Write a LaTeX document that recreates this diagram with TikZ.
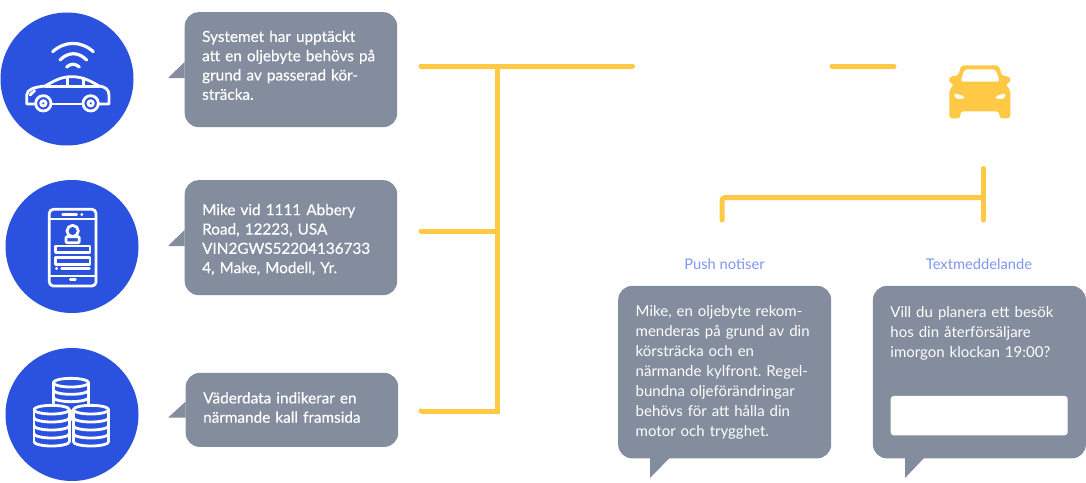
\documentclass[tikz,border=0pt]{standalone}
\usepackage{fontspec}
\setmainfont{Lato}
\newfontfamily\semifont[FakeBold=0.4]{Lato}
\usepackage{tikz}
\usetikzlibrary{positioning}
\definecolor{discblue}{HTML}{2A52DE}
\definecolor{bubblegray}{HTML}{838D9D}
\definecolor{wireyellow}{HTML}{FFC845}
\definecolor{labelblue}{HTML}{7E97F2}

\begin{document}
\frenchspacing
\begin{tikzpicture}[x=1pt, y=-1pt]
      \tikzstyle{disc}=[circle, fill=discblue, minimum size=133pt, inner sep=0pt]
      \tikzstyle{bubble}=[rectangle, rounded corners=14pt, fill=bubblegray, text=white,
        align=left, anchor=north west, inner xsep=17.5pt, inner ysep=0pt]
      \tikzstyle{left bubble}=[bubble, text width=177.5pt, font=\semifont\fontsize{15.3}{19.3}\selectfont]
      \tikzstyle{right bubble}=[bubble, text width=178pt, minimum height=172.5pt, font=\fontsize{15}{19.9}\selectfont]
      \tikzstyle{tail}=[fill=bubblegray]
      \tikzstyle{wire}=[draw=wireyellow, line width=5pt, line cap=round]
      \tikzstyle{channel}=[text=labelblue, font=\fontsize{14.7}{16}\selectfont]
      \tikzstyle{icon}=[draw=white, line width=2.8pt, line cap=round, line join=round]
      \useasboundingbox (0,0) rectangle (1086,482);

      \node[disc] (car) at (67,79) {};
      \node[disc] (phone) at (72,246.5) {};
      \node[disc] (data) at (72,414.5) {};

      \node[left bubble, minimum height=115pt] (detect) at (184.5,12) {Systemet har uppt\"ackt\\att en oljebyte beh\"ovs p\aa\\grund av passerad k\"or-\\str\"acka.\rule[-9pt]{0pt}{9pt}};
      \node[left bubble, minimum height=115pt] (owner) at (184.5,180) {\rule{0pt}{15pt}Mike vid 1111 Abbery\\Road, 12223, USA\\VIN2GWS52204136733\\4, Make, Modell, Yr.};
      \node[left bubble, minimum height=74pt] (weather) at (185.5,372.7) {V\"aderdata indikerar en\\n\"armande kall framsida\rule[-5pt]{0pt}{5pt}};
      \node[right bubble] (push) at (618,285.7) {Mike, en oljebyte rekom-\\menderas p\aa{} grund av din\\k\"orstr\"acka och en\\n\"armande kylfront. Regel-\\bundna oljef\"or\"andringar\\beh\"ovs f\"or att h\aa lla din\\motor och trygghet.};
      \node[right bubble] (sms) at (872.7,285.7) {Vill du planera ett bes\"ok\\hos din \aa terf\"ors\"aljare\\imorgon klockan 19:00?\\[59.7pt]~};
      \node[fill=white, rounded corners=3pt, minimum width=177pt, minimum height=39.3pt, inner sep=0pt] (reply) at (979.2,415.6) {};
      \node[channel] (pushlabel) at (724.5,264) {Push notiser};
      \node[channel] (smslabel) at (979,264) {Textmeddelande};

      \fill[tail] (detect.west |- 0,62) -- (168,78) -- (detect.west |- 0,78) -- cycle;
      \fill[tail] (owner.west |- 0,230) -- (168,246) -- (owner.west |- 0,246) -- cycle;
      \fill[tail] (weather.west |- 0,401.7) -- (168,417.7) -- (weather.west |- 0,417.7) -- cycle;
      \fill[tail] (650,457) -- (650,478) -- (670.5,457) -- cycle;
      \fill[tail] (905,457) -- (905,478) -- (925,457) -- cycle;

      \coordinate (detectwire) at (421,66);
      \coordinate (ownerwire) at (421,231);
      \coordinate (weatherwire) at (421,411);
      \coordinate (trunktop) at (497,66);
      \coordinate (trunkbase) at (497,411);
      \coordinate (trunkjoin) at (497,231);
      \coordinate (busend) at (632.5,66);
      \coordinate (gapstart) at (832,66);
      \coordinate (gapend) at (894,66);
      \coordinate (forktop) at (983.5,168.5);
      \coordinate (forkbase) at (983.5,220);
      \coordinate (forkjoin) at (983.5,197.7);
      \coordinate (pushfoot) at (722,220);
      \coordinate (pushcorner) at (722,197.7);

      \path[wire] (detectwire) edge (busend)
                  (ownerwire) edge (trunkjoin)
                  (gapstart) edge (gapend)
                  (forktop) edge (forkbase);
      \draw[wire, line cap=butt] (trunktop) -- (trunkbase) -- (weatherwire);
      \draw[wire, rounded corners=3pt] (pushfoot) -- (pushcorner) -- (forkjoin);
      \fill[wireyellow] (weatherwire) circle (2.5);

      % connected car
      \begin{scope}[scale=1/3]
        \draw[icon, line width=3.2pt] (158,155) .. controls (195,122) and (243,122) .. (280,155);
        \draw[icon, line width=3.2pt] (180,180) .. controls (205,155) and (235,155) .. (260,180);
        \draw[icon, line width=3.2pt] (200,201) .. controls (212,190) and (226,190) .. (238,201);
        \draw[icon] (104,312) -- (80,312) -- (80,285) .. controls (82,268) and (100,262) .. (135,258)
          .. controls (160,245) and (180,230) .. (215,230) .. controls (250,230) and (275,245) .. (297,258)
          .. controls (315,260) and (327,268) .. (327,285) -- (327,312) -- (298,312);
        \draw[icon] (156,312) -- (246,312);
        \draw[icon] (135,259) -- (297,259);
        \draw[icon] (203,232) -- (203,258) (250,234) -- (250,258);
        \draw[icon] (90,285) -- (104,272);
        \foreach \x in {130,272} {
          \draw[icon] (\x,310) circle (23);
          \draw[icon] (\x,310) circle (8);
        }
      \end{scope}

      % phone
      \begin{scope}[shift={(0,170)}, scale=1/3]
        \draw[icon, rounded corners=4pt] (148,118) rectangle (288,348);
        \draw[icon] (148,147) -- (288,147) (148,318) -- (288,318);
        \draw[icon] (188,134) -- (230,134) (245,134) -- (246,134);
        \draw[icon] (211,329) -- (226,329);
        \draw[icon] (218,183) circle (17);
        \draw[icon, rounded corners=1pt] (198,200) rectangle (238,218);
        \draw[icon] (166,228) rectangle (270,248);
        \draw[icon] (166,263) rectangle (270,284);
        \draw[icon] (169,296) -- (170,296) (185,296) -- (268,296);
      \end{scope}

      % data stacks
      \begin{scope}[shift={(0,340)}, scale=1/3]
        \draw[icon] (213,128) ellipse (53 and 13);
        \draw[icon] (160,128) -- (160,190) (266,128) -- (266,190);
        \foreach \k in {150,172} {
          \draw[icon] (160,\k) arc (180:0:53 and 13);
        }
        \draw[icon] (213,212) -- (213,240);
        \foreach \x in {155,273} {
          \draw[icon] (\x,209) ellipse (53 and 13);
          \draw[icon] ({\x-53},209) -- ({\x-53},305) ({\x+53},209) -- ({\x+53},305);
          \foreach \k in {233,257,281,305} {
            \draw[icon] ({\x-53},\k) arc (180:0:53 and 13);
          }
        }
      \end{scope}

      % yellow car
      \begin{scope}[shift={(820,40)}, scale=1/3]
        \fill[wireyellow, even odd rule, rounded corners=3pt] (388,235) -- (388,150) -- (403,132) -- (392,130)
          -- (385,120) -- (392,108) -- (414,108) -- (424,76) -- (536,76) -- (546,108) -- (566,108)
          -- (574,120) -- (566,130) -- (555,132) -- (571,150) -- (571,235) -- (538,235) -- (538,214)
          -- (421,214) -- (421,235) -- cycle
          (421,125) -- (433,88) -- (527,88) -- (540,125) -- cycle
          (401,158) -- (436,170) -- (432,177) -- (405,177) -- cycle
          (558,158) -- (523,170) -- (527,177) -- (554,177) -- cycle;
      \end{scope}
\end{tikzpicture}
\end{document}
